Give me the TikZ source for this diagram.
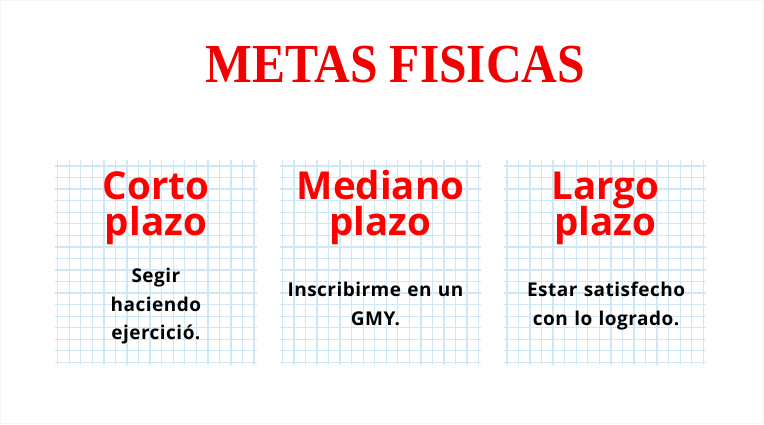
\documentclass[tikz,border=0pt]{standalone}
\usepackage{fontspec}
\setmainfont{Open Sans}
\newfontfamily\bodyfont{Open Sans}[LetterSpace=2.5]
\newfontfamily\titlefont{Liberation Serif}
\definecolor{gridblue}{RGB}{206,232,245}
\definecolor{titlered}{RGB}{242,0,0}
\newcommand\tightlines{\lineskiplimit=-100pt\relax}

\begin{document}
\begin{tikzpicture}[x=1pt, y=-1pt,
  gridline/.style={draw=gridblue, line width=1.3pt},
  headtext/.style={text=red, font=\fontsize{38.5}{36}\selectfont\bfseries, execute at begin node=\tightlines, text width=210pt, align=center, anchor=base, inner sep=0pt},
  bodytext/.style={text=black, font=\bodyfont\fontsize{19}{28.5}\selectfont\bfseries, execute at begin node=\tightlines, text width=210pt, align=center, anchor=base, inner sep=0pt}]
\useasboundingbox (0,0) rectangle (764,424);
\path [fill=white, draw=black!4] (0.5,0.5) rectangle (763.5,423.5);
\foreach \k/\head/\body/\b/\dx [evaluate=\k as \xo using 57.7+\k*224.6] in
  {0/{Corto\\plazo}/{Segir\\haciendo\\ejercició.}/282.7/0,
   1/{Mediano\\plazo}/{Inscribirme en un\\GMY.}/296.7/-5,
   2/{Largo\\plazo}/{Estar satisfecho\\con lo logrado.}/296.7/1} {
  \foreach \i in {0,...,17} {
    \draw [gridline] (\xo+\i*11.55,160) -- (\xo+\i*11.55,364.5);
    \draw [gridline] (\xo-2.5,166+\i*11.55) -- (\xo+198.9,166+\i*11.55);
  }
  \node [headtext] (head\k) at (\xo+98.2,199) {\head};
  \node [bodytext] (body\k) at (\xo+98.2+\dx,\b) {\body};
}
\node [anchor=base, text=titlered, inner sep=0pt, xscale=0.9, font=\titlefont\fontsize{55}{55}\selectfont\bfseries] (title) at (395.3,82.7) {METAS FISICAS};
\end{tikzpicture}
\end{document}
